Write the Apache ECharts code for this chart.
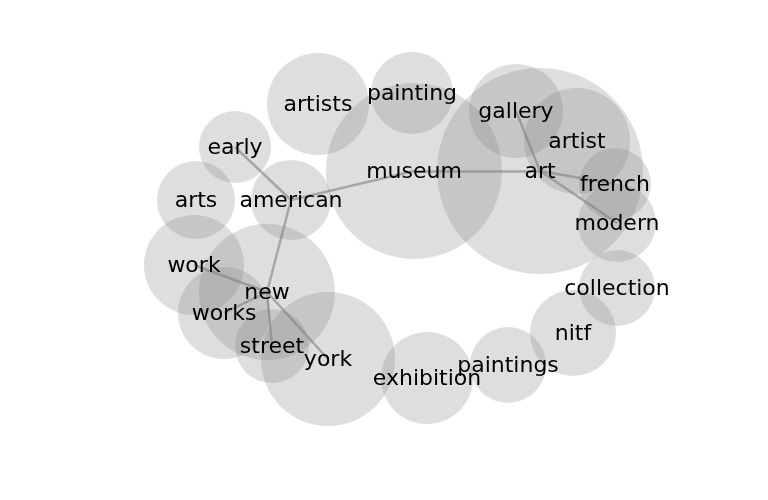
<!DOCTYPE html>
<html>
<head>
<meta charset="utf-8">
<script src="https://cdn.jsdelivr.net/npm/echarts@6/dist/echarts.min.js"></script>
<style>
  html, body { margin: 0; padding: 0; background: #fff; }
  #main { width: 768px; height: 500px; }
</style>
</head>
<body>
<div id="main"></div>
<script>
var dom = document.getElementById("main");
var myChart = echarts.init(dom, null, { renderer: "canvas" });

// words, layout position (x, y on a 768 x 500 plane) and weight (circle radius)
var words = ["artists", "painting", "gallery", "artist", "art", "museum", "french",
  "modern", "collection", "nitf", "paintings", "exhibition", "york", "street",
  "new", "works", "work", "arts", "early", "american"];
var posX = [318, 412, 516, 577, 540, 414, 615, 617, 617, 573, 508, 427, 328, 272,
  267, 224, 194, 196, 235, 291];
var posY = [104, 93, 111, 141, 171, 171, 184, 223, 288, 333, 365, 378, 359, 346,
  292, 313, 265, 200, 147, 200];
var weight = [51, 41, 47, 53, 103, 88, 36, 39, 38, 43, 38, 46, 67, 37,
  68, 46, 50, 39, 36, 40];

// co-occurrence links
var links = [
  ["early", "american"],
  ["american", "museum"],
  ["american", "new"],
  ["new", "work"],
  ["new", "works"],
  ["new", "street"],
  ["new", "york"],
  ["museum", "art"],
  ["art", "gallery"],
  ["art", "french"],
  ["art", "modern"],
];

var circles = [];
var nodes = [];
for (var i = 0; i < words.length; i++) {
  circles.push({ name: words[i], value: [posX[i], posY[i]], symbolSize: weight[i] * 2 });
  nodes.push({ name: words[i], value: [posX[i], posY[i]] });
}
var edges = [];
for (var j = 0; j < links.length; j++) {
  edges.push({ source: links[j][0], target: links[j][1] });
}

var option = {
  animation: false,
  grid: { left: 0, right: 0, top: 0, bottom: 0 },
  xAxis: { type: "value", min: 0, max: 768, show: false },
  yAxis: { type: "value", min: 0, max: 500, inverse: true, show: false },
  series: [
    {
      type: "scatter",
      z: 1,
      symbol: "circle",
      itemStyle: { color: "rgba(128,128,128,0.26)", opacity: 1 },
      emphasis: { disabled: true },
      data: circles,
    },
    {
      type: "graph",
      z: 2,
      coordinateSystem: "cartesian2d",
      layout: "none",
      symbolSize: 1,
      itemStyle: { color: "rgba(0,0,0,0)" },
      label: {
        show: true,
        position: "inside",
        offset: [0, 1],
        color: "#000",
        fontFamily: "DejaVu Sans",
        fontSize: 22,
        formatter: "{b}",
      },
      lineStyle: { color: "rgba(128,128,128,0.6)", width: 2.5, opacity: 1, curveness: 0 },
      emphasis: { disabled: true },
      data: nodes,
      links: edges,
    },
  ],
};

myChart.setOption(option);
</script>
</body>
</html>
